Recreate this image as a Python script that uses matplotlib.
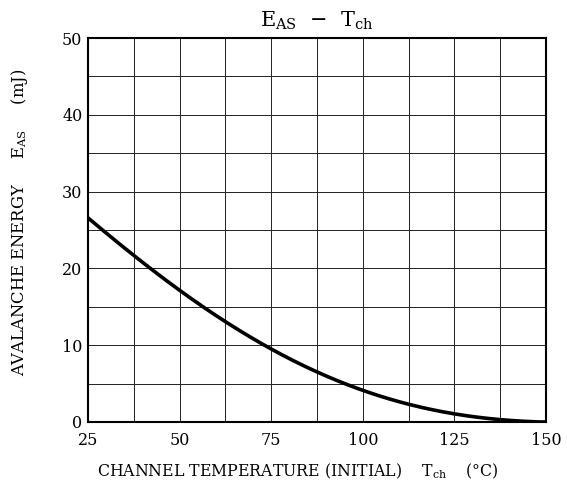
import numpy as np
import matplotlib
matplotlib.use('Agg')
import matplotlib.pyplot as plt

plt.rcParams['font.family'] = ['DejaVu Serif']
plt.rcParams['mathtext.fontset'] = 'dejavuserif'

# curve
temp_c = [25, 37.5, 50, 62.5, 75, 87.5, 100, 112.5, 125, 137.5, 150]
energy_mj = [26.5, 21.9, 17.1, 12.9, 9.5, 6.6, 4.2, 2.3, 1.0, 0.3, 0.0]

x_ticks = [25, 50, 75, 100, 125, 150]
y_ticks = [0, 10, 20, 30, 40, 50]

fig = plt.figure(figsize=(5.67, 4.94), dpi=100)
ax = fig.add_axes([88 / 567, 1 - 422 / 494, 458 / 567, 384 / 494])

# smooth the read points a bit for drawing
xs = np.linspace(25, 150, 300)
coef = np.polyfit(temp_c, energy_mj, 4)
ys = np.clip(np.polyval(coef, xs), 0, None)
ax.plot(xs, ys, color='black', lw=2.6, solid_capstyle='butt')

ax.set_xlim(25, 150)
ax.set_ylim(0, 50)
ax.set_xticks(x_ticks)
ax.set_yticks(y_ticks)
ax.set_xticks(np.arange(25, 151, 12.5), minor=True)
ax.set_yticks(np.arange(0, 51, 5), minor=True)
ax.grid(which='both', color='#222222', lw=0.7)
ax.tick_params(which='both', length=0, labelsize=11.5)
ax.tick_params(axis='x', pad=7)
ax.tick_params(axis='y', pad=4)
for s in ax.spines.values():
    s.set_linewidth(1.5)

ax.set_title(r'E$_{\rm AS}$  $-$  T$_{\rm ch}$', fontsize=15, pad=8)
fig.text(298 / 567, 1 - 471 / 494,
         r'CHANNEL TEMPERATURE (INITIAL)    T$_{\rm ch}$    (°C)',
         fontsize=11.3, ha='center', va='center')
fig.text(20 / 567, 1 - 222 / 494,
         r'AVALANCHE ENERGY     E$_{\rm AS}$     (mJ)',
         fontsize=11.8, ha='center', va='center', rotation=90)

plt.savefig('out.png', dpi=100)
